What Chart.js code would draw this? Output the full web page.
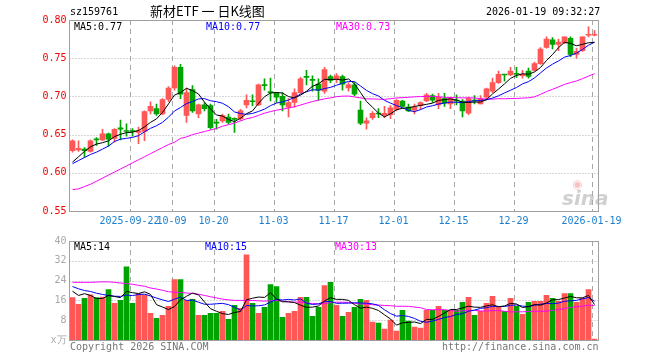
<!DOCTYPE html>
<html><head><meta charset="utf-8">
<script src="https://cdn.jsdelivr.net/npm/chart.js@4.4.1/dist/chart.umd.min.js"></script>
<style>
html,body{margin:0;padding:0;background:#fff}
body{width:660px;height:360px;overflow:hidden;position:relative;font-family:"DejaVu Sans Mono",monospace}
canvas{position:absolute;left:0}
.t{position:absolute;font-size:10px;line-height:12px;white-space:nowrap;z-index:2}
</style></head><body>
<canvas id="price" width="660" height="232" style="top:0"></canvas>
<canvas id="vol" width="660" height="128" style="top:232px"></canvas>

<div class="t" style="left:70px;top:6px;color:#000">sz159761</div>
<div class="t" style="left:150px;top:3px;font-family:'Noto Sans CJK SC';font-size:13px;line-height:16px;color:#000">新材ETF 一 日K线图</div>
<div class="t" style="left:486px;top:6px;color:#000">2026-01-19 09:32:27</div>

<div class="t" style="left:74px;top:21px;color:#000">MA5:0.77</div>
<div class="t" style="left:206px;top:21px;color:#0000ff">MA10:0.77</div>
<div class="t" style="left:336px;top:21px;color:#ff00ff">MA30:0.73</div>

<div class="t" style="left:74px;top:241px;color:#000">MA5:14</div>
<div class="t" style="left:205px;top:241px;color:#0000ff">MA10:15</div>
<div class="t" style="left:335px;top:241px;color:#ff00ff">MA30:13</div>

<div class="t" style="left:70px;top:341px;color:#777">Copyright 2026 SINA.COM</div>
<div class="t" style="left:442px;top:341px;color:#777">http://finance.sina.com.cn</div>
<div class="t" style="left:572px;top:178px;font-family:'DejaVu Sans';font-size:12px;line-height:12px;color:rgba(240,120,120,0.45)">◉</div>
<div class="t" style="left:562px;top:187px;font-family:'DejaVu Sans';font-style:italic;font-weight:bold;font-size:20px;line-height:22px;color:rgba(170,170,170,0.55)">sina</div>

<script>
// ---------- data ----------
const dates = ['2025-09-08','2025-09-09','2025-09-10','2025-09-11','2025-09-12','2025-09-15','2025-09-16','2025-09-17','2025-09-18','2025-09-19',
'2025-09-22','2025-09-23','2025-09-24','2025-09-25','2025-09-26','2025-09-29','2025-09-30','2025-10-09','2025-10-10','2025-10-13',
'2025-10-14','2025-10-15','2025-10-16','2025-10-17','2025-10-20','2025-10-21','2025-10-22','2025-10-23','2025-10-24','2025-10-27',
'2025-10-28','2025-10-29','2025-10-30','2025-10-31','2025-11-03','2025-11-04','2025-11-05','2025-11-06','2025-11-07','2025-11-10',
'2025-11-11','2025-11-12','2025-11-13','2025-11-14','2025-11-17','2025-11-18','2025-11-19','2025-11-20','2025-11-21','2025-11-24',
'2025-11-25','2025-11-26','2025-11-27','2025-11-28','2025-12-01','2025-12-02','2025-12-03','2025-12-04','2025-12-05','2025-12-08',
'2025-12-09','2025-12-10','2025-12-11','2025-12-12','2025-12-15','2025-12-16','2025-12-17','2025-12-18','2025-12-19','2025-12-22',
'2025-12-23','2025-12-24','2025-12-25','2025-12-26','2025-12-29','2025-12-30','2025-12-31','2026-01-05','2026-01-06','2026-01-07',
'2026-01-08','2026-01-09','2026-01-12','2026-01-13','2026-01-14','2026-01-15','2026-01-16','2026-01-19'];

const opens = [0.629,0.630,0.631,0.628,0.644,0.643,0.651,0.645,0.659,0.655,
0.655,0.653,0.654,0.681,0.684,0.677,0.696,0.711,0.738,0.675,
0.709,0.677,0.689,0.688,0.666,0.668,0.673,0.671,0.671,0.689,
0.694,0.689,0.715,0.706,0.704,0.700,0.686,0.692,0.705,0.726,
0.722,0.716,0.707,0.726,0.723,0.726,0.711,0.715,0.682,0.665,
0.672,0.678,0.675,0.676,0.683,0.694,0.686,0.682,0.688,0.694,
0.701,0.689,0.697,0.690,0.695,0.694,0.678,0.695,0.690,0.699,
0.707,0.718,0.729,0.728,0.730,0.727,0.733,0.734,0.743,0.764,
0.774,0.768,0.770,0.776,0.755,0.760,0.780,0.780];

const closes = [0.642,0.632,0.629,0.642,0.643,0.651,0.644,0.657,0.657,0.654,
0.654,0.655,0.680,0.687,0.677,0.696,0.711,0.738,0.703,0.705,
0.681,0.689,0.684,0.659,0.665,0.675,0.666,0.670,0.681,0.695,
0.693,0.715,0.714,0.705,0.699,0.689,0.692,0.705,0.723,0.725,
0.721,0.708,0.735,0.721,0.727,0.716,0.715,0.703,0.665,0.668,
0.678,0.677,0.678,0.685,0.695,0.687,0.681,0.686,0.692,0.702,
0.695,0.699,0.691,0.697,0.694,0.681,0.697,0.694,0.697,0.710,
0.718,0.729,0.728,0.733,0.729,0.729,0.726,0.743,0.762,0.775,
0.768,0.771,0.778,0.755,0.759,0.778,0.781,0.781];

const highs = [0.643,0.642,0.633,0.643,0.646,0.657,0.652,0.658,0.669,0.664,
0.658,0.660,0.681,0.693,0.690,0.697,0.713,0.740,0.742,0.711,
0.714,0.690,0.692,0.690,0.670,0.677,0.677,0.672,0.683,0.702,
0.702,0.716,0.723,0.724,0.705,0.705,0.697,0.710,0.725,0.734,
0.727,0.723,0.738,0.728,0.730,0.728,0.718,0.718,0.694,0.672,
0.680,0.684,0.687,0.688,0.696,0.695,0.690,0.690,0.693,0.704,
0.703,0.704,0.704,0.699,0.702,0.696,0.699,0.701,0.701,0.711,
0.724,0.733,0.729,0.738,0.738,0.734,0.737,0.745,0.764,0.778,
0.777,0.775,0.778,0.778,0.763,0.778,0.791,0.786];

const lows = [0.627,0.628,0.620,0.627,0.636,0.642,0.635,0.640,0.643,0.648,
0.648,0.638,0.642,0.677,0.675,0.676,0.693,0.708,0.697,0.666,
0.679,0.672,0.681,0.657,0.657,0.666,0.664,0.653,0.669,0.685,
0.688,0.688,0.708,0.694,0.692,0.681,0.673,0.686,0.704,0.715,
0.707,0.695,0.704,0.718,0.718,0.708,0.707,0.701,0.663,0.657,
0.670,0.672,0.672,0.671,0.681,0.686,0.680,0.677,0.683,0.693,
0.692,0.684,0.687,0.684,0.689,0.673,0.676,0.690,0.690,0.697,
0.705,0.717,0.720,0.727,0.725,0.724,0.724,0.733,0.742,0.763,
0.762,0.760,0.769,0.752,0.750,0.759,0.778,0.779];

// volume in 万 (x10^4)
const volumes = [17.1,14.4,16.8,18.3,17.1,17.3,20.4,14.8,16.0,29.6,
14.8,18.7,18.3,10.8,8.8,10.0,13.6,24.4,24.4,16.0,
16.4,10.0,10.0,10.8,10.8,11.6,8.4,14.0,12.8,34.4,
14.8,10.8,13.2,22.4,21.6,9.2,10.8,11.6,17.2,17.2,
9.6,13.2,22.0,23.3,14.0,9.6,11.2,13.2,16.4,16.0,
7.2,6.8,4.4,8.0,3.6,12.0,7.6,5.2,4.8,12.0,
12.0,13.6,12.0,12.0,12.0,15.2,17.2,10.0,11.6,14.8,
17.6,13.2,11.6,16.8,13.6,10.4,15.2,15.6,15.6,18.0,
16.8,15.6,18.8,18.8,15.2,16.8,20.4,0.4];

// moving-average values before the window is full (they depend on earlier, unseen days)
const ma5PriceHead  = [0.614,0.621,0.628,0.634];
const ma10PriceHead = [0.612,0.616,0.620,0.624,0.627,0.631,0.635,0.641,0.644];
const ma30PriceHead = [0.578,0.579,0.582,0.585,0.589,0.593,0.597,0.601,0.605,0.609,
0.613,0.617,0.621,0.625,0.629,0.633,0.637,0.640,0.645,0.647,
0.650,0.652,0.654,0.656,0.658,0.661,0.663,0.665,0.668];
const ma5VolHead  = [19.7,18.0,18.7,18.0];
const ma10VolHead = [21.6,20.7,20.0,19.6,18.9,18.4,18.0,17.7,17.6];
const ma30VolHead = [23.3,23.3,23.3,23.3,23.4,23.5,23.5,23.3,23.0,22.8,
22.5,22.1,21.7,21.0,20.6,20.1,19.5,19.3,19.2,19.0,
18.8,18.5,18.0,17.5,17.0,16.5,16.2,16.0,16.0];

const axisTickDates = ['2025-09-22','2025-10-09','2025-10-20','2025-11-03','2025-11-17','2025-12-01','2025-12-15','2025-12-29','2026-01-19'];
const axisTickText  = ['2025-09-22','10-09','10-20','11-03','11-17','12-01','12-15','12-29','2026-01-19'];
const priceTicks = [0.55,0.60,0.65,0.70,0.75,0.80];
const volTicks = [0,8,16,24,32,40];

// ---------- helpers ----------
function movingAvg(src, n, head){
  return src.map((v,i)=>{
    if (i < n-1) return head[i];
    let s=0; for(let k=i-n+1;k<=i;k++) s+=src[k];
    return s/n;
  });
}
const RED='#ff5656', GREEN='#00a300';
const candleColors = closes.map((c,i)=> c>=opens[i] ? RED : GREEN);
const tickIdx = axisTickDates.map(d=>dates.indexOf(d));

const framePlugin = {
  id:'frame',
  beforeDatasetsDraw(chart, args, o){
    const {ctx, chartArea:a, scales:{x,y}} = chart;
    ctx.save();
    ctx.lineWidth=1;
    ctx.strokeStyle='#b0b0b0';
    ctx.setLineDash([1,2]);
    o.hLines.forEach(v=>{
      const py=Math.round(y.getPixelForValue(v))+0.5;
      ctx.beginPath(); ctx.moveTo(a.left,py); ctx.lineTo(a.right+1,py); ctx.stroke();
    });
    ctx.strokeStyle='#a8a8a8';
    ctx.setLineDash([5,4]);
    tickIdx.forEach(i=>{
      const px=x.getPixelForValue(i)-2;
      ctx.beginPath(); ctx.moveTo(px,a.top); ctx.lineTo(px,a.bottom); ctx.stroke();
    });
    ctx.restore();
  },
  afterDatasetsDraw(chart){
    const {ctx, chartArea:a} = chart;
    ctx.save();
    ctx.lineWidth=1; ctx.strokeStyle='#a0a0a0'; ctx.setLineDash([]);
    ctx.strokeRect(a.left, Math.round(a.top)+0.5, a.right+1-a.left, Math.round(a.bottom)-Math.round(a.top));
    ctx.restore();
  }
};

const monoFont = {family:'"DejaVu Sans Mono", monospace', size:10};

// ---------- price chart ----------
new Chart(document.getElementById('price'), {
  type:'bar',
  data:{
    labels: dates,
    datasets:[
      {type:'line', data: movingAvg(closes,5,ma5PriceHead), borderColor:'#000', borderWidth:1, pointRadius:0, tension:0, order:0},
      {type:'line', data: movingAvg(closes,10,ma10PriceHead), borderColor:'#0000ff', borderWidth:1, pointRadius:0, tension:0, order:0},
      {type:'line', data: movingAvg(closes,30,ma30PriceHead), borderColor:'#ff00ff', borderWidth:1, pointRadius:0, tension:0, order:0},
      {data: lows.map((l,i)=>[l,highs[i]]), backgroundColor:candleColors, barThickness:1, grouped:false, order:3},
      {data: opens.map((o,i)=>[o,closes[i]]), backgroundColor:candleColors, barThickness:5, grouped:false, minBarLength:1, order:2}
    ]
  },
  options:{
    responsive:false, animation:false, devicePixelRatio:1,
    layout:{padding:{top:20,right:62.5,left:0,bottom:0}},
    plugins:{legend:{display:false}, tooltip:{enabled:false}, frame:{hLines:priceTicks.slice(1,-1)}},
    scales:{
      x:{offset:true, grid:{display:false, drawTicks:false}, border:{display:false},
         afterFit:s=>{s.height=21;},
         ticks:{autoSkip:false, maxRotation:0, padding:4, labelOffset:-3, color:'#1a7fd0', font:monoFont,
           callback:(v,i)=>{const k=tickIdx.indexOf(i); return k>=0?axisTickText[k]:'';}}},
      y:{min:0.55, max:0.80, grid:{display:false, drawTicks:false}, border:{display:false},
         afterFit:s=>{s.width=69.5;},
         afterBuildTicks:s=>{s.ticks=priceTicks.map(v=>({value:v}));},
         ticks:{padding:3, color:'#f00000', font:monoFont, callback:v=>Number(v).toFixed(2)}}
    }
  },
  plugins:[framePlugin]
});

// ---------- volume chart ----------
new Chart(document.getElementById('vol'), {
  type:'bar',
  data:{
    labels: dates,
    datasets:[
      {type:'line', data: movingAvg(volumes,5,ma5VolHead), borderColor:'#000', borderWidth:1, pointRadius:0, tension:0, order:0},
      {type:'line', data: movingAvg(volumes,10,ma10VolHead), borderColor:'#0000ff', borderWidth:1, pointRadius:0, tension:0, order:0},
      {type:'line', data: movingAvg(volumes,30,ma30VolHead), borderColor:'#ff00ff', borderWidth:1, pointRadius:0, tension:0, order:0},
      {data: volumes, backgroundColor:candleColors, barThickness:5, grouped:false, order:2}
    ]
  },
  options:{
    responsive:false, animation:false, devicePixelRatio:1,
    layout:{padding:{top:8,right:62.5,left:0,bottom:20}},
    plugins:{legend:{display:false}, tooltip:{enabled:false}, frame:{hLines:volTicks.slice(1,-1)}},
    scales:{
      x:{display:false, offset:true, grid:{display:false}},
      y:{min:0, max:40, grid:{display:false, drawTicks:false}, border:{display:false},
         afterFit:s=>{s.width=69.5;},
         afterBuildTicks:s=>{s.ticks=volTicks.map(v=>({value:v}));},
         ticks:{padding:3, color:'#a8a8a8', font:monoFont, callback:v=> v===0 ? 'x万' : String(v)}}
    }
  },
  plugins:[framePlugin]
});
</script>
</body></html>
